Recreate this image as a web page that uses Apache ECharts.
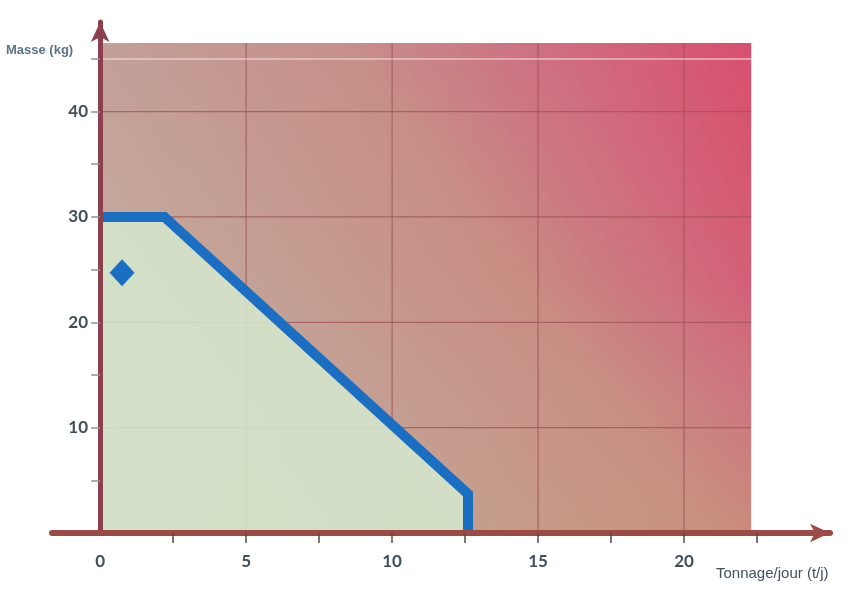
<!DOCTYPE html>
<html>
<head>
<meta charset="utf-8">
<script src="https://cdn.jsdelivr.net/npm/echarts@6/dist/echarts.min.js"></script>
<style>html,body{margin:0;padding:0;background:#fff}#c{width:854px;height:590px}</style>
</head>
<body>
<div id="c"></div>
<script>
// Data
var limitLine = [[0, 30], [2.2, 30], [12.6, 3.7], [12.6, 0]];
var samplePoint = [[0.75, 24.7]];
var xLabelValues = [0, 5, 10, 15, 20];
var xTickValues = [2.5, 5, 7.5, 10, 12.5, 15, 17.5, 20, 22.5];
var yLabelValues = [10, 20, 30, 40];
var yTickValues = [5, 10, 15, 20, 25, 30, 35, 40, 45];
var xGridValues = [5, 10, 15, 20];
var yGridValues = [10, 20, 30, 40];
var yPaleGrid = [45];
var plotXEnd = 22.3;
var plotYEnd = 46.5;
var xAxisName = 'Tonnage/jour (t/j)';
var yAxisName = 'Masse (kg)';

var chart = echarts.init(document.getElementById('c'));

var gridStyle = { color: '#a0545a', width: 1.2, opacity: 0.8 };
var gridSeries = [];
xGridValues.forEach(function (x) {
  gridSeries.push({ type: 'line', z: 2, silent: true, symbol: 'none', animation: false,
    data: [[x, 0], [x, plotYEnd]], lineStyle: gridStyle });
});
yGridValues.forEach(function (y) {
  gridSeries.push({ type: 'line', z: 2, silent: true, symbol: 'none', animation: false,
    data: [[0, y], [plotXEnd, y]], lineStyle: gridStyle });
});
yPaleGrid.forEach(function (y) {
  gridSeries.push({ type: 'line', z: 2, silent: true, symbol: 'none', animation: false,
    data: [[0, y], [plotXEnd, y]], lineStyle: { color: '#f0dada', width: 1.5, opacity: 0.75 } });
});

var labelFont = { fontFamily: 'Lato, "DejaVu Sans", sans-serif', fontWeight: 'bold', fontSize: 17, color: '#3f4f5a' };

function renderBackground(params, api) {
  var p0 = api.coord([0, plotYEnd]);
  var p1 = api.coord([plotXEnd, 0]);
  var shape = { x: p0[0], y: p0[1], width: p1[0] - p0[0], height: p1[1] - p0[1] };
  return {
    type: 'group',
    children: [
      { type: 'rect', shape: shape, style: { fill: new echarts.graphic.LinearGradient(0, 1, 1, 0, [
          { offset: 0, color: '#c4b8a8' },
          { offset: 0.35, color: '#c4a094' },
          { offset: 0.6, color: '#c88c82' },
          { offset: 0.8, color: '#d2647a' },
          { offset: 1, color: '#de4062' }
        ]) } },
      { type: 'rect', shape: shape, style: { fill: new echarts.graphic.LinearGradient(0, 0, 0, 1, [
          { offset: 0, color: 'rgba(185,165,180,0.15)' },
          { offset: 0.5, color: 'rgba(195,165,160,0.0)' },
          { offset: 1, color: 'rgba(200,160,110,0.22)' }
        ]) } }
    ]
  };
}

var option = {
  animation: false,
  backgroundColor: '#ffffff',
  grid: { left: 52, right: 24, top: 22, bottom: 57 },
  xAxis: {
    type: 'value', min: -1.65, max: 25, z: 6,
    axisLine: { onZero: true, lineStyle: { color: '#9c4a45', width: 6 }, symbol: ['none', 'arrow'], symbolSize: [14, 20] },
    axisTick: { show: true, customValues: xTickValues, length: 10, lineStyle: { color: '#5a4848', width: 1.5 } },
    axisLabel: Object.assign({ customValues: xLabelValues, margin: 20 }, labelFont),
    splitLine: { show: false }
  },
  yAxis: {
    type: 'value', min: 0, max: 48.5, z: 6,
    axisLine: { onZero: true, lineStyle: { color: '#8c3f4c', width: 5 }, symbol: ['none', 'arrow'], symbolSize: [14, 20] },
    axisTick: { show: true, customValues: yTickValues, length: 9, lineStyle: { color: '#8a9494', width: 1.5 } },
    axisLabel: Object.assign({ customValues: yLabelValues, margin: -36 }, labelFont),
    splitLine: { show: false }
  },
  graphic: [
    { type: 'text', left: 6, top: 44, style: { text: yAxisName, font: 'bold 13px "Liberation Sans Narrow", "Liberation Sans", sans-serif', fill: '#5a7585' } },
    { type: 'text', left: 716, top: 566, style: { text: xAxisName, font: '15px "Liberation Sans Narrow", "Liberation Sans", sans-serif', fill: '#3f5060' } }
  ],
  series: [
    { type: 'custom', z: 1, silent: true, renderItem: renderBackground, data: [[0, 0]], clip: false }
  ].concat(gridSeries).concat([
    {
      type: 'line', z: 3, symbol: 'none', data: limitLine,
      lineStyle: { color: '#1a6fc2', width: 10, join: 'miter' },
      areaStyle: { origin: 'start', color: 'rgba(212,231,205,0.88)', opacity: 1 }
    },
    {
      type: 'scatter', z: 4, symbol: 'diamond', symbolSize: [25, 27], data: samplePoint,
      itemStyle: { color: '#1a6fc2', opacity: 1 }
    }
  ])
};
chart.setOption(option);
</script>
</body>
</html>
